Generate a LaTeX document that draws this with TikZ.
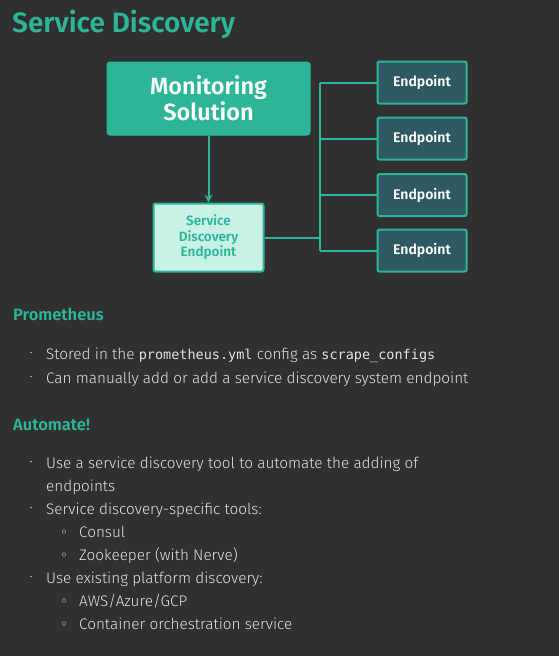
\documentclass[tikz,border=0pt]{standalone}
\usepackage{fontspec}
\usetikzlibrary{arrows.meta}
\setmainfont{Fira Sans}
\newfontfamily\lightfont{Fira Sans Light}
\newfontfamily\boldfont{Fira Sans SemiBold}
\setmonofont{DejaVu Sans Mono}
\definecolor{bg}{HTML}{303030}
\definecolor{teal}{HTML}{2DB598}
\definecolor{mint}{HTML}{C8F2E6}
\definecolor{epfill}{HTML}{2D5A62}
\definecolor{body}{HTML}{E2E2E2}
\tikzset{
  mon/.style={draw=teal, fill=teal, rounded corners=3pt, line width=1pt, minimum width=203pt, minimum height=73pt, inner sep=0pt, text=white, font=\boldfont\fontsize{23.5}{26}\selectfont, align=center},
  sdbox/.style={draw=teal, fill=mint, rounded corners=2pt, line width=2pt, minimum width=110pt, minimum height=68pt, inner sep=0pt, text=teal, font=\boldfont\fontsize{13.5}{15.5}\selectfont, align=center},
  ep/.style={draw=teal, fill=epfill, rounded corners=2pt, line width=2pt, minimum width=89pt, minimum height=42pt, inner sep=0pt, text=white, font=\boldfont\fontsize{14}{16}\selectfont},
  conn/.style={draw=teal, line width=2pt},
  heading/.style={anchor=base west, inner sep=0pt, text=teal, font=\boldfont\fontsize{16.5}{18}\selectfont},
  line/.style={anchor=base west, inner sep=0pt, text=body, font=\lightfont\fontsize{15.3}{18}\selectfont},
  bul/.style={anchor=center, inner sep=0pt, text=body, font=\lightfont\fontsize{10}{12}\selectfont},
}
\newcommand{\code}[1]{{\ttfamily\fontsize{13.5}{18}\selectfont #1}}
\begin{document}
\begin{tikzpicture}[x=1pt,y=-1pt]
\fill[bg] (0,0) rectangle (559,656);
\useasboundingbox (0,0) rectangle (559,656);
\node[anchor=base west, inner sep=0pt, text=teal, font=\boldfont\fontsize{28}{32}\selectfont] (title) at (12,32) {Service Discovery};
\node[mon] (mon) at (208.5,98.5) {Monitoring\\Solution};
\node[sdbox] (sd) at (208.5,237.5) {Service\\Discovery\\Endpoint};
\node[ep] (e1) at (422,82.5) {Endpoint};
\node[ep] (e2) at (422,138.5) {Endpoint};
\node[ep] (e3) at (422,195) {Endpoint};
\node[ep] (e4) at (422,250.5) {Endpoint};
\draw[conn, -{Stealth[length=8pt,width=8pt]}] (mon.south) -- (sd.north);
\coordinate (bus) at (320,238);
\draw[conn] (sd.east |- bus) -- (bus);
\draw[conn] (320,82.5) -- (320,250.5);
\foreach \e in {e1,e2,e3,e4} { \draw[conn] (320,0 |- \e.west) -- (\e.west); }
\node[heading] (h1) at (13,320) {Prometheus};
\node[bul] (b1) at (31,354) {•};
\node[line] (t1) at (46,359) {Stored in the \code{prometheus.yml} config as \code{scrape\_configs}};
\node[bul] (b2) at (31,378) {•};
\node[line] (t2) at (46,383) {Can manually add or add a service discovery system endpoint};
\node[heading] (h2) at (13,430) {Automate!};
\node[bul] (b3) at (31,463) {•};
\node[line] (t3) at (46,468) {Use a service discovery tool to automate the adding of};
\node[line] (t3b) at (46,491) {endpoints};
\node[bul] (b4) at (31,509) {•};
\node[line] (t4) at (46,514) {Service discovery-specific tools:};
\node[bul] (b5) at (64,532) {$\circ$};
\node[line] (t5) at (79,537) {Consul};
\node[bul] (b6) at (64,555) {$\circ$};
\node[line] (t6) at (79,560) {Zookeeper (with Nerve)};
\node[bul] (b7) at (31,578) {•};
\node[line] (t7) at (46,583) {Use existing platform discovery:};
\node[bul] (b8) at (64,601) {$\circ$};
\node[line] (t8) at (79,606) {AWS/Azure/GCP};
\node[bul] (b9) at (64,624) {$\circ$};
\node[line] (t9) at (79,629) {Container orchestration service};
\end{tikzpicture}
\end{document}
